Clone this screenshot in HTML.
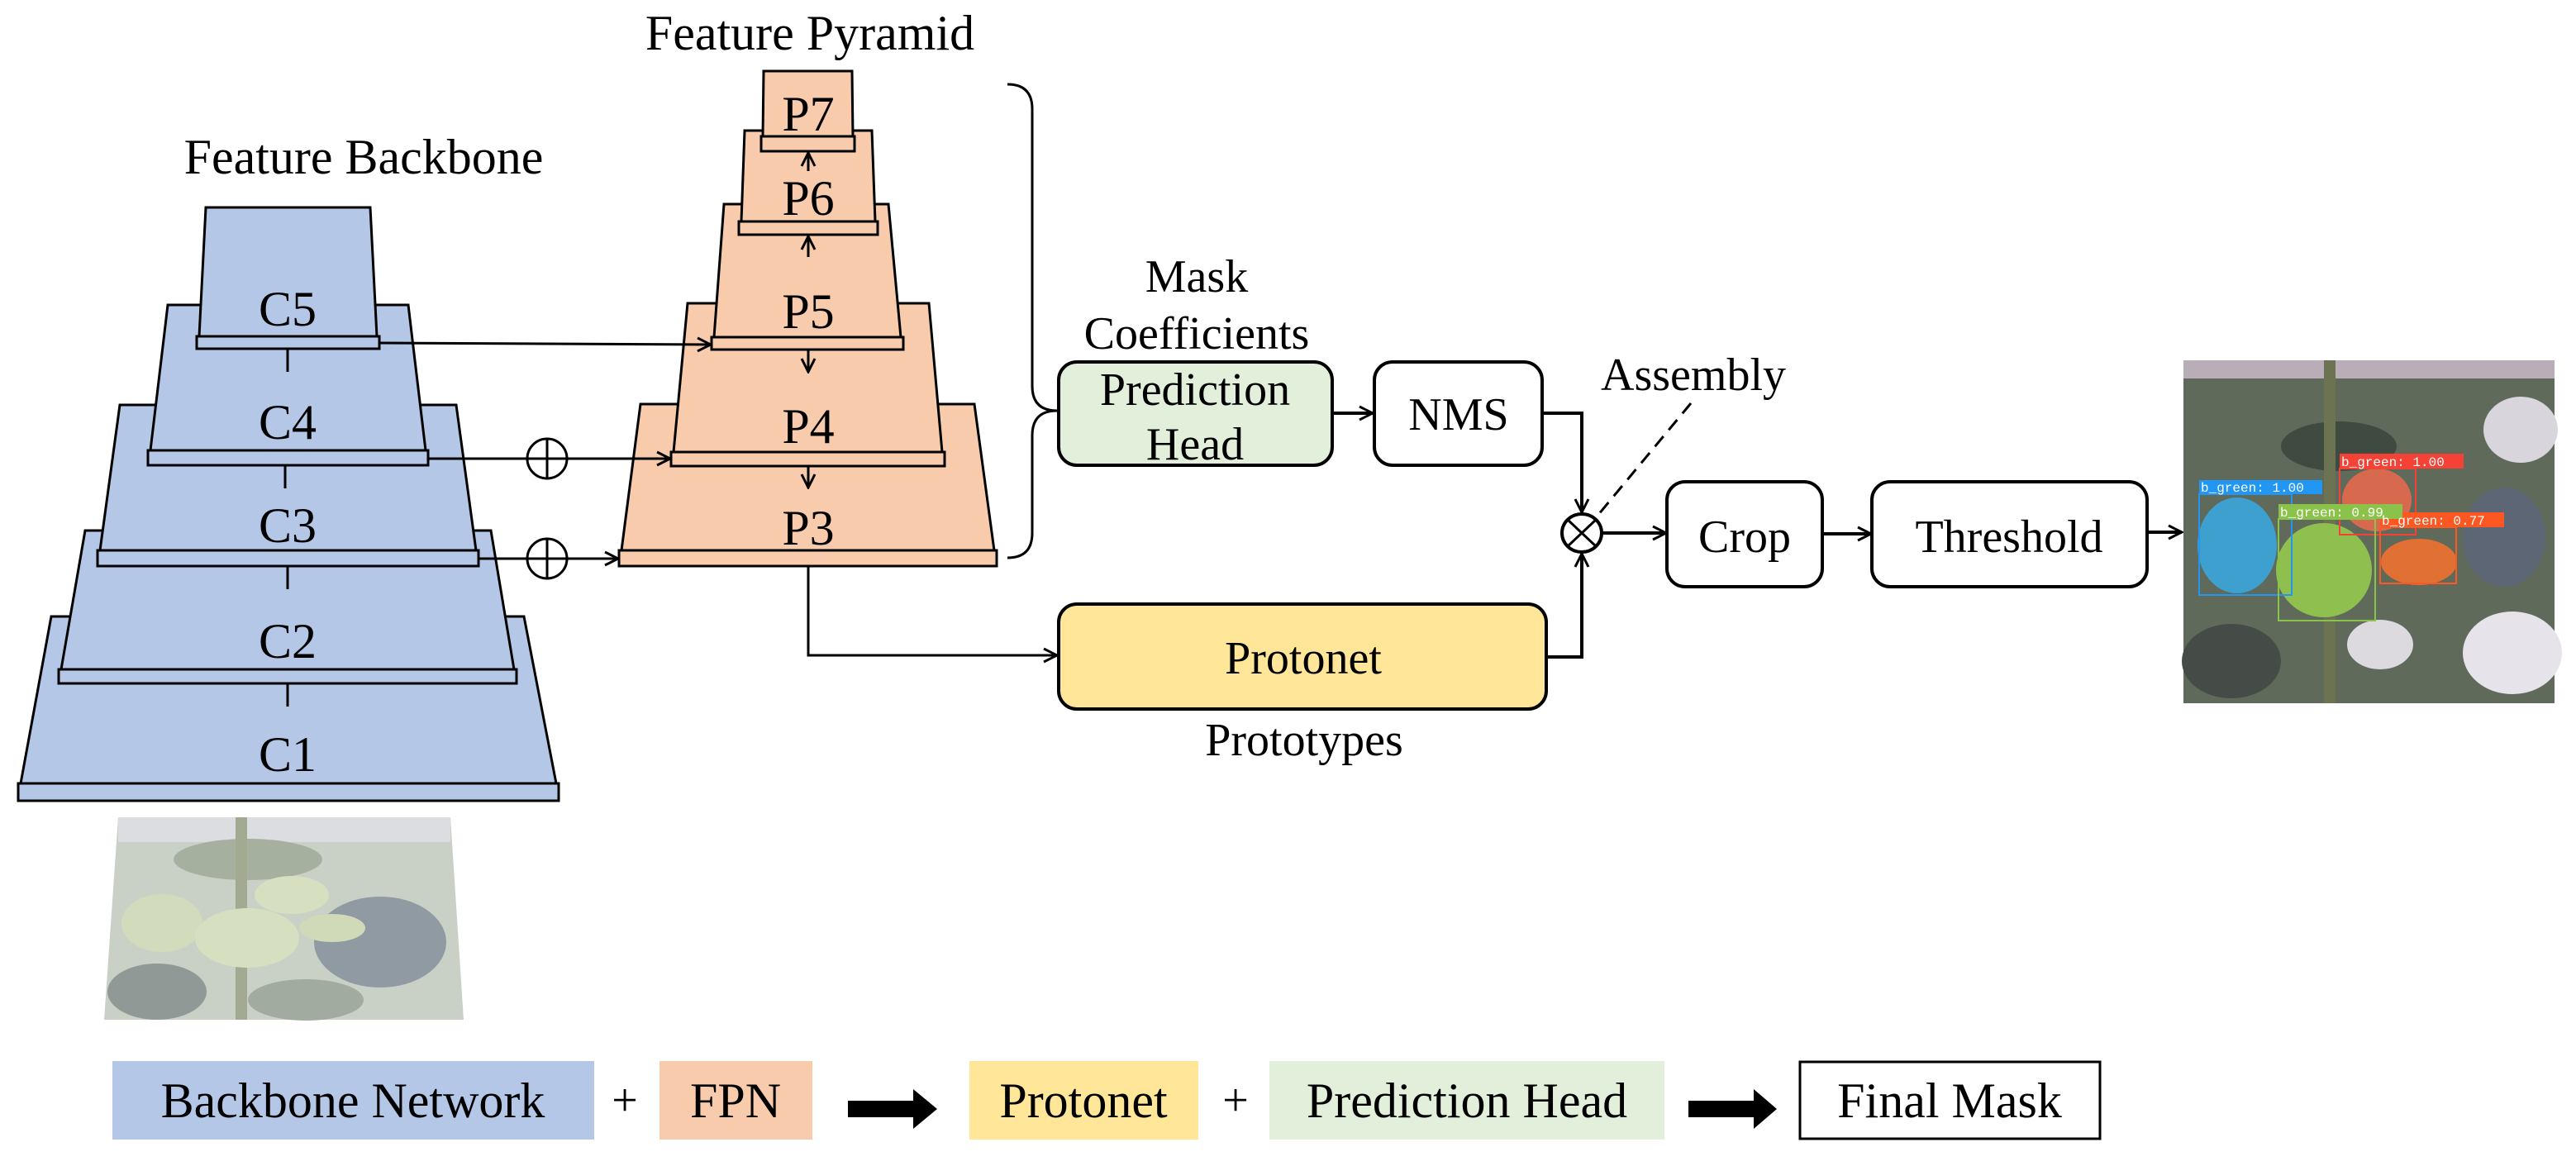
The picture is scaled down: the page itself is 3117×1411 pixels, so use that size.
<!DOCTYPE html>
<html><head><meta charset="utf-8"><style>
html,body{margin:0;padding:0;background:#fff;}
svg{display:block;}
text{font-family:"Liberation Serif",serif;fill:#000;}
</style></head><body>
<svg width="3117" height="1411" viewBox="0 0 3117 1411" xmlns="http://www.w3.org/2000/svg">
<defs>
<marker id="ah" viewBox="0 0 20 20" refX="18" refY="10" markerWidth="20" markerHeight="20" markerUnits="userSpaceOnUse" orient="auto">
<path d="M2,2 L18,10 L2,18" fill="none" stroke="#000" stroke-width="3"/>
</marker>
</defs>

<text x="440" y="210" font-size="60" text-anchor="middle">Feature Backbone</text>
<text x="980" y="60" font-size="60" text-anchor="middle">Feature Pyramid</text>

<g stroke="#000" stroke-width="3" fill="#b4c7e7">
<polygon points="62,746 634,746 673,948 25,948"/>
<rect x="22" y="948" width="654" height="21"/>
<polygon points="103,642 594,642 622,810 74,810"/>
<rect x="71" y="810" width="554" height="17"/>
<polygon points="145,490 552,490 576,666 121,666"/>
<rect x="118" y="666" width="461" height="19"/>
<polygon points="203,369 494,369 515,545 182,545"/>
<rect x="179" y="545" width="339" height="18"/>
<polygon points="249,251 448,251 456,407 241,407"/>
<rect x="238" y="407" width="221" height="15"/>
</g>
<g stroke="#000" stroke-width="3">
<line x1="348" y1="422" x2="348" y2="450"/>
<line x1="345" y1="563" x2="345" y2="591"/>
<line x1="348" y1="685" x2="348" y2="713"/>
<line x1="348" y1="827" x2="348" y2="855"/>
</g>
<g font-size="60" text-anchor="middle">
<text x="348" y="394">C5</text>
<text x="348" y="531">C4</text>
<text x="348" y="656">C3</text>
<text x="348" y="796">C2</text>
<text x="348" y="933">C1</text>
</g>

<g stroke="#000" stroke-width="3" fill="#f8cbad">
<polygon points="775,489 1179,489 1203,666 752,666"/>
<rect x="749" y="666" width="457" height="19"/>
<polygon points="832,367 1124,367 1140,547 815,547"/>
<rect x="812" y="547" width="331" height="17"/>
<polygon points="876,247 1075,247 1090,408 864,408"/>
<rect x="861" y="408" width="232" height="15"/>
<polygon points="901,158 1055,158 1059,268 897,268"/>
<rect x="894" y="268" width="168" height="16"/>
<polygon points="924,86 1031,86 1032,165 923,165"/>
<rect x="921" y="165" width="113" height="18"/>
</g>
<g font-size="60" text-anchor="middle">
<text x="978" y="158">P7</text>
<text x="978" y="260">P6</text>
<text x="978" y="397">P5</text>
<text x="978" y="536">P4</text>
<text x="978" y="659">P3</text>
</g>
<g stroke="#000" stroke-width="3" fill="none">
<line x1="978" y1="207" x2="978" y2="185" marker-end="url(#ah)"/>
<line x1="978" y1="311" x2="978" y2="286" marker-end="url(#ah)"/>
<line x1="978" y1="423" x2="978" y2="450" marker-end="url(#ah)"/>
<line x1="978" y1="564" x2="978" y2="590" marker-end="url(#ah)"/>
<line x1="459" y1="415" x2="860" y2="417" marker-end="url(#ah)"/>
<line x1="518" y1="555" x2="811" y2="555" marker-end="url(#ah)"/>
<line x1="579" y1="676" x2="748" y2="676" marker-end="url(#ah)"/>
<circle cx="662" cy="555" r="24" fill="#fff"/>
<line x1="638" y1="555" x2="686" y2="555"/><line x1="662" y1="531" x2="662" y2="579"/>
<circle cx="662" cy="676" r="24" fill="#fff"/>
<line x1="638" y1="676" x2="686" y2="676"/><line x1="662" y1="652" x2="662" y2="700"/>
<path d="M1219,102 Q1249,102 1249,132 L1249,467 Q1249,497 1279,497 Q1249,497 1249,527 L1249,645 Q1249,675 1219,675"/>
<polyline points="978,685 978,793 1279,793" marker-end="url(#ah)"/>
</g>

<text x="1448" y="353" font-size="56" text-anchor="middle">Mask</text>
<text x="1448" y="422" font-size="56" text-anchor="middle">Coefficients</text>
<rect x="1281" y="438" width="331" height="125" rx="22" fill="#e2efda" stroke="#000" stroke-width="4"/>
<text x="1446" y="490" font-size="56" text-anchor="middle">Prediction</text>
<text x="1446" y="556" font-size="56" text-anchor="middle">Head</text>
<rect x="1663" y="438" width="203" height="125" rx="22" fill="#fff" stroke="#000" stroke-width="4"/>
<text x="1765" y="520" font-size="56" text-anchor="middle">NMS</text>
<rect x="1281" y="731" width="590" height="127" rx="22" fill="#ffe699" stroke="#000" stroke-width="4"/>
<text x="1577" y="815" font-size="56" text-anchor="middle">Protonet</text>
<text x="1578" y="914" font-size="56" text-anchor="middle">Prototypes</text>
<text x="2049" y="472" font-size="56" text-anchor="middle">Assembly</text>
<rect x="2017" y="583" width="188" height="127" rx="22" fill="#fff" stroke="#000" stroke-width="4"/>
<text x="2111" y="668" font-size="56" text-anchor="middle">Crop</text>
<rect x="2265" y="583" width="333" height="127" rx="22" fill="#fff" stroke="#000" stroke-width="4"/>
<text x="2431" y="668" font-size="56" text-anchor="middle">Threshold</text>

<g stroke="#000" stroke-width="4" fill="none">
<line x1="1612" y1="500" x2="1661" y2="500" marker-end="url(#ah)"/>
<polyline points="1866,500 1914,500 1914,620" marker-end="url(#ah)"/>
<polyline points="1871,795 1914,795 1914,670" marker-end="url(#ah)"/>
<line x1="2046" y1="488" x2="1928" y2="630" stroke-width="3" stroke-dasharray="16,10"/>
<ellipse cx="1914" cy="645" rx="24" ry="23" fill="#fff"/>
<line x1="1897" y1="629" x2="1931" y2="661" stroke-width="3"/>
<line x1="1931" y1="629" x2="1897" y2="661" stroke-width="3"/>
<line x1="1938" y1="645" x2="2016" y2="645" marker-end="url(#ah)"/>
<line x1="2205" y1="646" x2="2264" y2="646" marker-end="url(#ah)"/>
<line x1="2598" y1="644" x2="2640" y2="644" marker-end="url(#ah)"/>
</g>

<!-- Result image -->
<g>
<rect x="2642" y="436" width="449" height="415" fill="#5f6a5a"/>
<rect x="2642" y="436" width="449" height="22" fill="#b9aeb8"/>
<ellipse cx="3050" cy="520" rx="45" ry="40" fill="#d8d6dc"/>
<ellipse cx="3040" cy="790" rx="60" ry="50" fill="#e6e4ea"/>
<ellipse cx="2880" cy="780" rx="40" ry="30" fill="#dcdadf"/>
<ellipse cx="2700" cy="800" rx="60" ry="45" fill="#454c48"/>
<ellipse cx="3030" cy="650" rx="50" ry="60" fill="#5d6674"/>
<ellipse cx="2830" cy="540" rx="70" ry="30" fill="#3f4a40"/>
<rect x="2812" y="436" width="14" height="415" fill="#6b7352"/>
<ellipse cx="2876" cy="605" rx="42" ry="38" fill="#d7694f"/>
<ellipse cx="2927" cy="680" rx="46" ry="28" fill="#e07033"/>
<ellipse cx="2707" cy="660" rx="48" ry="58" fill="#3ea0cf"/>
<ellipse cx="2812" cy="690" rx="58" ry="57" fill="#8fc04f"/>
<g fill="none" stroke-width="2">
<rect x="2661" y="598" width="112" height="122" stroke="#2196f3"/>
<rect x="2831" y="567" width="92" height="80" stroke="#f44336"/>
<rect x="2757" y="628" width="117" height="123" stroke="#8bc34a"/>
<rect x="2880" y="638" width="92" height="68" stroke="#ff5722"/>
</g>
<rect x="2661" y="581" width="149" height="17" fill="#2196f3"/>
<rect x="2831" y="549" width="150" height="18" fill="#f44336"/>
<rect x="2880" y="620" width="150" height="18" fill="#ff5722"/>
<rect x="2757" y="610" width="150" height="18" fill="#8bc34a"/>
<text x="2663" y="595" style="fill:#fff;font-family:'Liberation Mono',monospace" font-size="16">b_green: 1.00</text>
<text x="2833" y="564" style="fill:#fff;font-family:'Liberation Mono',monospace" font-size="16">b_green: 1.00</text>
<text x="2882" y="635" style="fill:#fff;font-family:'Liberation Mono',monospace" font-size="16">b_green: 0.77</text>
<text x="2759" y="625" style="fill:#fff;font-family:'Liberation Mono',monospace" font-size="16">b_green: 0.99</text>
</g>

<!-- Input image -->
<g>
<polygon points="143,989 545,989 561,1234 126,1234" fill="#c9d1c6"/>
<rect x="143" y="989" width="402" height="30" fill="#dcdde0"/>
<ellipse cx="460" cy="1140" rx="80" ry="55" fill="#8f9aa2"/>
<ellipse cx="190" cy="1200" rx="60" ry="34" fill="#8f9a96"/>
<ellipse cx="370" cy="1210" rx="70" ry="25" fill="#a2aba0"/>
<ellipse cx="300" cy="1040" rx="90" ry="25" fill="#a6b09e"/>
<rect x="285" y="989" width="14" height="245" fill="#a2aa92"/>
<ellipse cx="196" cy="1117" rx="49" ry="35" fill="#d2dcbc"/>
<ellipse cx="299" cy="1135" rx="63" ry="36" fill="#d6e0c0"/>
<ellipse cx="353" cy="1083" rx="45" ry="23" fill="#d6e0c0"/>
<ellipse cx="402" cy="1123" rx="40" ry="17" fill="#d0dab8"/>
</g>

<!-- Legend -->
<rect x="136" y="1284" width="583" height="95" fill="#b4c7e7"/>
<text x="427" y="1352" font-size="60" text-anchor="middle">Backbone Network</text>
<text x="756" y="1350" font-size="56" text-anchor="middle">+</text>
<rect x="798" y="1284" width="185" height="95" fill="#f8cbad"/>
<text x="890" y="1352" font-size="60" text-anchor="middle">FPN</text>
<polygon points="1026,1332 1105,1332 1105,1318 1134,1342 1105,1366 1105,1352 1026,1352" fill="#000"/>
<rect x="1173" y="1284" width="277" height="95" fill="#ffe699"/>
<text x="1311" y="1352" font-size="60" text-anchor="middle">Protonet</text>
<text x="1495" y="1350" font-size="56" text-anchor="middle">+</text>
<rect x="1536" y="1284" width="478" height="95" fill="#e2efda"/>
<text x="1775" y="1352" font-size="60" text-anchor="middle">Prediction Head</text>
<polygon points="2043,1332 2122,1332 2122,1318 2150,1342 2122,1366 2122,1352 2043,1352" fill="#000"/>
<rect x="2178" y="1285" width="363" height="93" fill="#fff" stroke="#000" stroke-width="3"/>
<text x="2359" y="1352" font-size="60" text-anchor="middle">Final Mask</text>
</svg>
</body></html>
